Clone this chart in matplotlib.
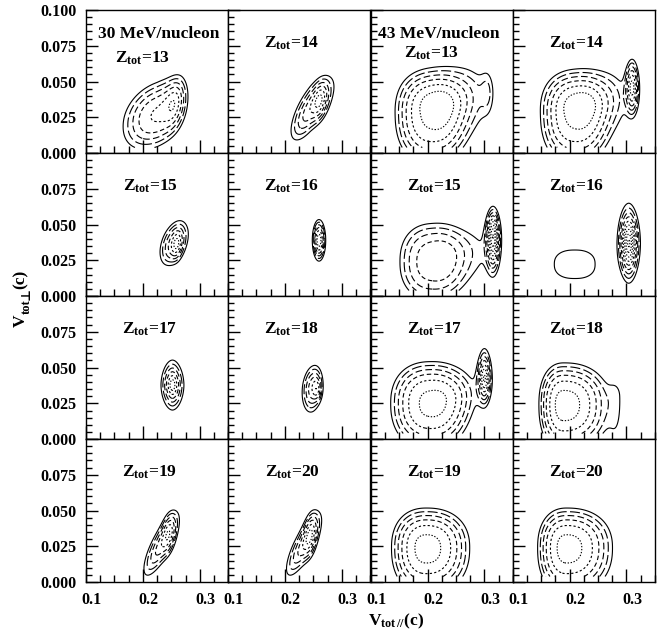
import numpy as np
import matplotlib
matplotlib.use("Agg")
import matplotlib.pyplot as plt
from matplotlib.transforms import ScaledTranslation

plt.rcParams.update({"font.family": "Liberation Serif", "font.weight": "bold",
                     "mathtext.fontset": "custom",
                     "mathtext.rm": "Liberation Serif:bold",
                     "mathtext.it": "Liberation Serif:bold",
                     "mathtext.bf": "Liberation Serif:bold",
                     "axes.linewidth": 1.0})

# panel layout: rows = Z_tot pairs, columns = (30 MeV, 30 MeV, 43 MeV, 43 MeV)
z_values = [[13, 14, 13, 14],
            [15, 16, 15, 16],
            [17, 18, 17, 18],
            [19, 20, 19, 20]]
energies = ["30 MeV/nucleon", "43 MeV/nucleon"]

# contour levels (same for every panel, relative yield)
levels = [0.135, 0.2, 0.28, 0.375, 0.49, 0.61, 0.75, 0.9, 1.05, 1.2, 1.4]

# yield maps, as blobs:
# (v_par, v_perp, width left, width right, width down, width up, correlation, height, flatness)
blobs_13_30 = [(0.225, 0.027, 0.040, 0.032, 0.016, 0.016, 0.35, 0.50, 1.2),
               (0.257, 0.036, 0.012, 0.012, 0.011, 0.011, 0.30, 0.30, 1.0)]
blobs_14_30 = [(0.245, 0.031, 0.022, 0.026, 0.014, 0.014, 0.70, 0.45, 1.0),
               (0.262, 0.037, 0.009, 0.009, 0.008, 0.008, 0.30, 0.30, 1.0)]
blobs_15_30 = [(0.255, 0.037, 0.016, 0.016, 0.010, 0.010, 0.40, 0.45, 1.0),
               (0.260, 0.036, 0.006, 0.006, 0.006, 0.006, 0.20, 0.25, 1.0)]
blobs_16_30 = [(0.260, 0.039, 0.0065, 0.0065, 0.008, 0.008, 0.0, 0.70, 1.0)]
blobs_17_30 = [(0.252, 0.0378, 0.009, 0.009, 0.0078, 0.0078, 0.0, 0.72, 0.75)]
blobs_18_30 = [(0.249, 0.036, 0.012, 0.011, 0.011, 0.010, 0.20, 0.45, 1.0),
               (0.257, 0.035, 0.005, 0.005, 0.005, 0.005, 0.0, 0.25, 1.0)]
blobs_19_30 = [(0.232, 0.026, 0.020, 0.020, 0.014, 0.014, 0.78, 0.42, 1.0),
               (0.246, 0.034, 0.008, 0.008, 0.009, 0.009, 0.30, 0.30, 1.0)]
blobs_20_30 = [(0.233, 0.026, 0.020, 0.020, 0.014, 0.014, 0.78, 0.42, 1.0),
               (0.245, 0.033, 0.008, 0.008, 0.010, 0.010, 0.30, 0.32, 1.0)]

blobs_13_43 = [(0.207, 0.027, 0.044, 0.044, 0.024, 0.020, 0.0, 0.62, 1.5),
               (0.230, 0.048, 0.045, 0.045, 0.011, 0.011, 0.0, 0.12, 1.0),
               (0.270, 0.036, 0.030, 0.030, 0.016, 0.016, 0.0, 0.20, 1.0),
               (0.305, 0.043, 0.008, 0.008, 0.011, 0.011, 0.0, 0.12, 1.0)]
blobs_14_43 = [(0.210, 0.027, 0.042, 0.042, 0.024, 0.020, 0.0, 0.62, 1.5),
               (0.230, 0.046, 0.045, 0.045, 0.011, 0.011, 0.0, 0.10, 1.0),
               (0.270, 0.035, 0.028, 0.028, 0.015, 0.015, 0.0, 0.18, 1.0),
               (0.310, 0.046, 0.007, 0.007, 0.011, 0.011, 0.0, 0.60, 1.0)]
blobs_15_43 = [(0.208, 0.024, 0.043, 0.043, 0.020, 0.020, 0.0, 0.42, 1.5),
               (0.275, 0.031, 0.035, 0.035, 0.016, 0.014, 0.0, 0.16, 1.0),
               (0.315, 0.042, 0.0065, 0.0065, 0.012, 0.0095, 0.0, 1.00, 0.9)]
blobs_16_43 = [(0.209, 0.0223, 0.045, 0.045, 0.0125, 0.0125, 0.0, 0.17, 1.7),
               (0.304, 0.037, 0.0084, 0.0084, 0.0114, 0.0114, 0.0, 1.10, 0.8)]
blobs_17_43 = [(0.205, 0.025, 0.048, 0.046, 0.022, 0.020, 0.0, 0.63, 1.5),
               (0.265, 0.032, 0.025, 0.025, 0.013, 0.013, 0.0, 0.12, 1.0),
               (0.300, 0.0425, 0.0065, 0.0065, 0.009, 0.010, 0.0, 0.75, 0.85)]
blobs_18_43 = [(0.190, 0.024, 0.030, 0.055, 0.022, 0.020, 0.0, 0.65, 1.5),
               (0.282, 0.030, 0.010, 0.010, 0.030, 0.009, 0.0, 0.12, 1.0)]
blobs_19_43 = [(0.198, 0.024, 0.042, 0.052, 0.022, 0.019, 0.0, 0.645, 1.5)]
blobs_20_43 = [(0.195, 0.024, 0.035, 0.055, 0.022, 0.019, 0.0, 0.645, 1.5)]

panel_blobs = [[blobs_13_30, blobs_14_30, blobs_13_43, blobs_14_43],
               [blobs_15_30, blobs_16_30, blobs_15_43, blobs_16_43],
               [blobs_17_30, blobs_18_30, blobs_17_43, blobs_18_43],
               [blobs_19_30, blobs_20_30, blobs_19_43, blobs_20_43]]

styles = ["-", (0, (9, 3)), (0, (6, 3)), (0, (4, 2.5)), (0, (2, 2)), (0, (1.2, 1.5))]

xs = np.linspace(0.1, 0.35, 250)
ys = np.linspace(0.004, 0.1, 200)
X, Y = np.meshgrid(xs, ys)


def yield_map(blobs):
    Z = np.zeros_like(X)
    for x0, y0, sxl, sxr, syd, syu, rho, amp, p in blobs:
        dx = (X - x0) / np.where(X < x0, sxl, sxr)
        dy = (Y - y0) / np.where(Y < y0, syd, syu)
        v = (dy - rho * dx) / np.sqrt(1 - rho ** 2)
        k = 2 + 0.6 * (p - 1)          # flatter blobs get slightly squarer rings
        q = (np.abs(dx) ** k + np.abs(v) ** k) ** (2 * p / k)
        Z += amp * np.exp(-0.5 * q)
    return Z


W, H = 665, 635
col_left = [86, 228, 370.7, 512.7]
row_top = [10, 153, 296, 439]
pw, ph = 142.2, 143.2

fig = plt.figure(figsize=(W / 100, H / 100), dpi=100)
for r in range(4):
    for c in range(4):
        ax = fig.add_axes([col_left[c] / W, 1 - (row_top[r] + ph) / H, pw / W, ph / H])
        Z = yield_map(panel_blobs[r][c])
        lv = [l for l in levels if l < Z.max()]
        ls = [styles[min(i, len(styles) - 1)] for i in range(len(lv))]
        ax.contour(X, Y, Z, levels=lv, colors="k", linewidths=0.8, linestyles=ls)
        ax.set_xlim(0.1, 0.35)
        ax.set_ylim(0, 0.1)

        ax.set_xticks([0.1, 0.2, 0.3])
        ax.set_xticks(np.arange(0.1, 0.351, 0.025), minor=True)
        ax.set_yticks([0, 0.025, 0.05, 0.075, 0.1])
        ax.set_yticks(np.arange(0, 0.1001, 0.005), minor=True)
        ax.tick_params(which="both", direction="in", top=False, right=False, width=1.0)
        ax.tick_params(which="major", axis="x", length=9.5)
        ax.tick_params(which="minor", axis="x", length=5)
        ax.tick_params(which="major", axis="y", length=8.5)
        ax.tick_params(which="minor", axis="y", length=4.3)
        ax.tick_params(labelsize=11.5, pad=7)

        if r == 3:
            ax.set_xticklabels(["0.1", "0.2", "0.3"])
            for t in ax.get_xticklabels():
                t.set_transform(t.get_transform() + ScaledTranslation(6 / 100, 0, fig.dpi_scale_trans))
        else:
            ax.set_xticklabels([])
        if c == 0:
            labs = ["0.000", "0.025", "0.050", "0.075", "0.100" if r == 0 else ""]
            ax.set_yticklabels(labs)
        else:
            ax.set_yticklabels([])

        ztxt = "Z$_{\\mathrm{tot}}$=%d" % z_values[r][c]
        if r == 0 and c == 0:
            ax.text(0.51, 0.804, energies[0], transform=ax.transAxes, ha="center",
                    fontsize=12.5, fontweight="bold")
            ax.text(0.40, 0.63, ztxt, transform=ax.transAxes, ha="center",
                    fontsize=12.5, fontweight="bold")
        elif r == 0 and c == 2:
            ax.text(0.48, 0.804, energies[1], transform=ax.transAxes, ha="center",
                    fontsize=12.5, fontweight="bold")
            ax.text(0.43, 0.665, ztxt, transform=ax.transAxes, ha="center",
                    fontsize=12.5, fontweight="bold")
        else:
            ax.text(0.45, 0.735, ztxt, transform=ax.transAxes, ha="center",
                    fontsize=12.5, fontweight="bold")

fig.text(368 / W, 1 - 625 / H, "V$_{\\mathrm{tot\\,//}}$(c)", fontsize=12.5,
         fontweight="bold", ha="left", va="baseline")
# rotated y label built from pieces so the perpendicular sign can use DejaVu
fig.text(21 / W, 1 - 327 / H, "V", fontsize=12.5, fontweight="bold",
         rotation=90, ha="center", va="bottom")
fig.text(26.5 / W, 1 - 314 / H, "tot", fontsize=9, fontweight="bold",
         rotation=90, ha="center", va="bottom")
fig.text(26.5 / W, 1 - 300 / H, "\u22a5", fontsize=9, fontweight="bold",
         family="DejaVu Serif", rotation=90, ha="center", va="bottom")
fig.text(21 / W, 1 - 289 / H, "(c)", fontsize=12.5, fontweight="bold",
         rotation=90, ha="center", va="bottom")

fig.savefig("out.png", dpi=100, facecolor="white")
